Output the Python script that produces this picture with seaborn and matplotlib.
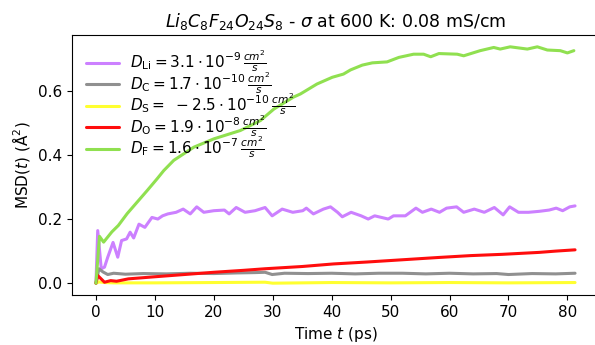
import matplotlib
matplotlib.use("Agg")
import matplotlib.pyplot as plt
import seaborn as sns
import pandas as pd

# ---- data ----
t_li = [0, 0.3, 0.9, 1.45, 2.0, 2.9, 3.7, 4.35, 5.2, 5.8, 6.4, 7.3, 8.3, 9.5, 10.5, 11.3, 12.2,
        13.6, 14.8, 16.0, 17.1, 18.3, 20.0, 21.8, 22.6, 23.8, 25.3, 27.0, 28.7, 29.9, 31.6,
        33.4, 35.1, 35.7, 36.9, 38.6, 39.8, 41.0, 41.8, 43.3, 45.0, 46.2, 47.3, 49.6, 50.5,
        52.5, 54.3, 55.4, 56.9, 58.3, 59.5, 61.2, 62.4, 64.2, 65.9, 67.6, 69.1, 70.2, 71.7,
        73.4, 75.2, 76.9, 78.1, 79.2, 80.4, 81.3]
msd_li = [0, 0.164, 0.045, 0.05, 0.081, 0.127, 0.081, 0.133, 0.138, 0.159, 0.141, 0.184, 0.174,
          0.205, 0.200, 0.210, 0.216, 0.221, 0.231, 0.216, 0.238, 0.221, 0.226, 0.228, 0.216,
          0.236, 0.221, 0.226, 0.236, 0.210, 0.231, 0.221, 0.226, 0.234, 0.216, 0.231, 0.238,
          0.221, 0.207, 0.221, 0.210, 0.200, 0.210, 0.200, 0.210, 0.210, 0.234, 0.221, 0.231,
          0.221, 0.234, 0.238, 0.221, 0.231, 0.221, 0.236, 0.213, 0.238, 0.221, 0.221, 0.224,
          0.228, 0.234, 0.226, 0.238, 0.241]

t_c = [0, 0.5, 1.2, 2.0, 3.0, 5.0, 8.0, 12.0, 16.0, 20.0, 24.0, 27.0, 28.7, 29.9, 32.0, 36.0,
       40.0, 44.0, 48.0, 52.0, 56.0, 60.0, 64.0, 68.0, 70.0, 74.0, 78.0, 81.3]
msd_c = [0, 0.045, 0.035, 0.027, 0.031, 0.028, 0.030, 0.029, 0.031, 0.030, 0.032, 0.033, 0.034,
         0.027, 0.031, 0.030, 0.031, 0.029, 0.031, 0.031, 0.029, 0.031, 0.029, 0.030, 0.027,
         0.030, 0.029, 0.031]

t_s = [0, 0.5, 1.5, 3.0, 10.0, 20.0, 28.7, 30.0, 40.0, 50.0, 60.0, 70.0, 81.3]
msd_s = [0, 0.004, 0.002, 0.001, 0.001, 0.002, 0.003, 0.000, 0.002, 0.001, 0.002, 0.001, 0.002]

t_o = [0, 0.3, 1.45, 2.5, 3.5, 5.5, 10.0, 15.0, 20.0, 25.0, 28.7, 35.0, 40.3, 46.0, 52.0, 58.0,
       63.6, 69.0, 75.2, 78.0, 81.3]
msd_o = [0, 0.024, 0.003, 0.008, 0.006, 0.0135, 0.020, 0.027, 0.034, 0.040, 0.045, 0.052, 0.060,
         0.066, 0.073, 0.080, 0.086, 0.090, 0.096, 0.100, 0.104]

t_f = [0, 0.6, 1.3, 2.7, 3.8, 5.3, 7.0, 8.7, 10.4, 11.5, 13.2, 16.6, 20.0, 24.5, 27.9, 30.2,
       33.5, 34.7, 37.5, 40.1, 42.0, 43.2, 45.2, 46.9, 49.4, 51.4, 53.9, 55.6, 56.8, 58.2,
       61.3, 62.4, 65.2, 67.5, 68.6, 70.3, 73.2, 74.9, 76.6, 78.8, 80.0, 81.1]
msd_f = [0, 0.146, 0.128, 0.160, 0.180, 0.217, 0.253, 0.289, 0.326, 0.351, 0.383, 0.424, 0.450,
         0.476, 0.507, 0.543, 0.580, 0.590, 0.621, 0.642, 0.652, 0.665, 0.680, 0.687, 0.690,
         0.704, 0.714, 0.714, 0.706, 0.716, 0.714, 0.709, 0.725, 0.735, 0.730, 0.737, 0.730,
         0.737, 0.727, 0.725, 0.718, 0.725]

labels = [
    r"$D_{\mathrm{Li}} = 3.1 \cdot 10^{-9}\,\frac{cm^2}{s}$",
    r"$D_{\mathrm{C}} = 1.7 \cdot 10^{-10}\,\frac{cm^2}{s}$",
    r"$D_{\mathrm{S}} = \ -2.5 \cdot 10^{-10}\,\frac{cm^2}{s}$",
    r"$D_{\mathrm{O}} = 1.9 \cdot 10^{-8}\,\frac{cm^2}{s}$",
    r"$D_{\mathrm{F}} = 1.6 \cdot 10^{-7}\,\frac{cm^2}{s}$",
]
colors = ["#CC80FF", "#909090", "#FFFF30", "#FF0D0D", "#90E050"]

series = [(t_li, msd_li), (t_c, msd_c), (t_s, msd_s), (t_o, msd_o), (t_f, msd_f)]

sns.set_style("ticks", rc={"axes.edgecolor": "black", "text.color": "black",
                           "axes.labelcolor": "black", "xtick.color": "black",
                           "ytick.color": "black"})
plt.rcParams["font.family"] = ["DejaVu Sans"]

fig = plt.figure(figsize=(5.95, 3.45), dpi=100)
ax = fig.add_axes([72 / 595, 50 / 345, 527 / 595, 260 / 345])

for (t, m), lab, col in zip(series, labels, colors):
    df = pd.DataFrame({"t": t, "msd": m})
    sns.lineplot(data=df, x="t", y="msd", ax=ax, color=col, label=lab, linewidth=2.2)

ax.set_xticks([0, 10, 20, 30, 40, 50, 60, 70, 80])
ax.set_yticks([0.0, 0.2, 0.4, 0.6])
ax.set_xlabel(r"Time $t$ (ps)", fontsize=11)
ax.set_ylabel(r"MSD($t$) ($\mathrm{\AA}^2$)", fontsize=11)
ax.set_title(r"$Li_8C_8F_{24}O_{24}S_8$ - $\sigma$ at 600 K: 0.08 mS/cm", fontsize=12.5)
ax.legend(loc="upper left", frameon=False, fontsize=11, handlelength=2.2,
          labelspacing=-0.25, handletextpad=0.7)
ax.tick_params(labelsize=11)

fig.savefig("out.png", dpi=100)
